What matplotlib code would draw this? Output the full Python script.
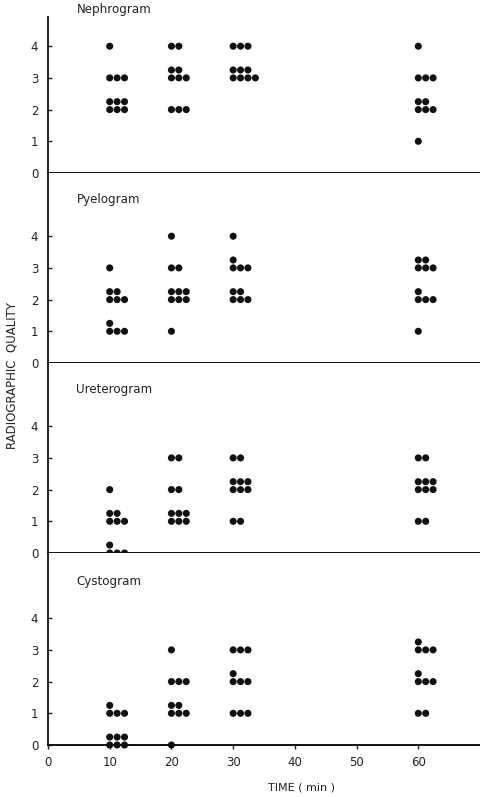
import matplotlib
matplotlib.use("Agg")
from matplotlib import pyplot as plt

# each cluster: (time, grade, dots in bottom row, dots in row just above)
panel_names = ["Nephrogram", "Pyelogram", "Ureterogram", "Cystogram"]

nephrogram = [(10, 4, 1, 0), (10, 3, 3, 0), (10, 2, 3, 3),
              (20, 4, 2, 0), (20, 3, 3, 2), (20, 2, 3, 0),
              (30, 4, 3, 0), (30, 3, 4, 3),
              (60, 4, 1, 0), (60, 3, 3, 0), (60, 2, 3, 2), (60, 1, 1, 0)]
pyelogram = [(10, 3, 1, 0), (10, 2, 3, 2), (10, 1, 3, 1),
             (20, 4, 1, 0), (20, 3, 2, 0), (20, 2, 3, 3), (20, 1, 1, 0),
             (30, 4, 1, 0), (30, 3, 3, 1), (30, 2, 3, 2),
             (60, 3, 3, 2), (60, 2, 3, 1), (60, 1, 1, 0)]
ureterogram = [(10, 2, 1, 0), (10, 1, 3, 2), (10, 0, 3, 1),
               (20, 3, 2, 0), (20, 2, 2, 0), (20, 1, 3, 3),
               (30, 3, 2, 0), (30, 2, 3, 3), (30, 1, 2, 0),
               (60, 3, 2, 0), (60, 2, 3, 3), (60, 1, 2, 0)]
cystogram = [(10, 1, 3, 1), (10, 0, 3, 3),
             (20, 3, 1, 0), (20, 2, 3, 0), (20, 1, 3, 2), (20, 0, 1, 0),
             (30, 3, 3, 0), (30, 2, 3, 1), (30, 1, 3, 0),
             (60, 3, 3, 1), (60, 2, 3, 1), (60, 1, 2, 0)]
panels = [nephrogram, pyelogram, ureterogram, cystogram]

x_ticks = [0, 10, 20, 30, 40, 50, 60]
y_ticks = [0, 1, 2, 3, 4]

W, H = 480, 797
fig = plt.figure(figsize=(W / 100, H / 100), dpi=100)
plt.rcParams['font.family'] = ['DejaVu Sans']

# panel pixel extents (top, zero line)
extents = [(17, 173), (173, 363), (363, 553), (553, 745)]
px_per_unit = 31.7
col_step = 1.2
row_step = 0.25
ink = '#111111'
txt = '#222222'

for i, (top, zero) in enumerate(extents):
    ax = fig.add_axes([48 / W, 1 - zero / H, 432 / W, (zero - top) / H])
    ax.set_xlim(0, 70)
    ax.set_ylim(0, (zero - top) / px_per_unit)
    xs, ys = [], []
    for t, g, n_bot, n_top in panels[i]:
        for k in range(n_bot):
            xs.append(t + k * col_step)
            ys.append(g)
        for k in range(n_top):
            xs.append(t + k * col_step)
            ys.append(g + row_step)
    ax.scatter(xs, ys, s=26, color=ink, edgecolors='none', zorder=3, clip_on=False)
    ax.text(4.6, 5.15, panel_names[i], fontsize=8.6, color=txt, va='center')
    for s in ['top', 'right']:
        ax.spines[s].set_visible(False)
    ax.spines['left'].set_linewidth(1.3)
    ax.spines['bottom'].set_linewidth(1.4)
    ax.spines['left'].set_color(ink)
    ax.spines['bottom'].set_color(ink)
    ax.set_yticks(y_ticks)
    ax.tick_params(axis='y', direction='in', length=3, width=1, labelsize=8.5,
                   pad=7, colors=txt)
    if i < 3:
        ax.set_xticks([])
    else:
        ax.set_xticks(x_ticks)
        ax.tick_params(axis='x', direction='out', length=3, width=1, labelsize=8.5,
                       pad=5, colors=txt)
        ax.set_xlabel('TIME ( min )', fontsize=8, color=txt)
        ax.xaxis.set_label_coords((302 - 48) / 432, -38 / 192)

fig.text(12 / W, 1 - 375 / H, 'RADIOGRAPHIC  QUALITY', rotation=90,
         fontsize=8.5, color=txt, ha='center', va='center')

plt.savefig('out.png', dpi=100)
